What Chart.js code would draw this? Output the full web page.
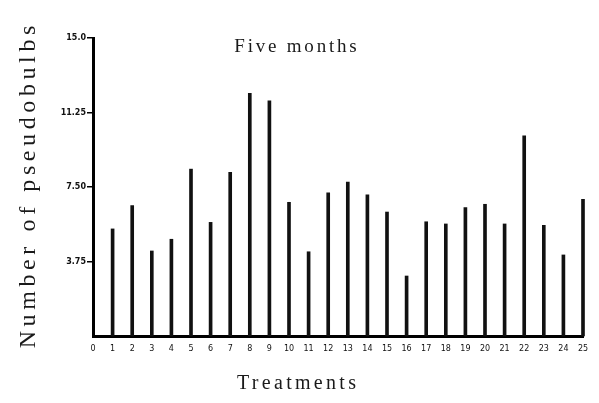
<!DOCTYPE html>
<html>
<head>
<meta charset="utf-8">
<script src="https://cdn.jsdelivr.net/npm/chart.js@4"></script>
<style>
  html, body { margin: 0; padding: 0; background: #fff; }
  #wrap { width: 599px; height: 403px; position: relative; }
</style>
</head>
<body>
<div id="wrap"><canvas id="graficoPseudobulbos"></canvas></div>
<script>
// Treatments 1..25 and number of pseudobulbs after five months
const treatments = [1, 2, 3, 4, 5, 6, 7, 8, 9, 10, 11, 12, 13, 14, 15, 16, 17, 18, 19, 20, 21, 22, 23, 24, 25];
const pseudobulbs = [5.39, 6.56, 4.28, 4.87, 8.40, 5.72, 8.24, 12.21, 11.84, 6.73, 4.24, 7.21, 7.75,
                     7.11, 6.24, 3.02, 5.75, 5.64, 6.46, 6.63, 5.64, 10.08, 5.57, 4.08, 6.88];
const yTickValues = [3.75, 7.5, 11.25, 15];
const yTickLabels = ['3.75', '7.50', '11.25', '15.0'];

document.addEventListener('DOMContentLoaded', function () {
    const ctx = document.getElementById('graficoPseudobulbos').getContext('2d');
    const fonteTexto = '"Liberation Serif", "DejaVu Serif", serif';

    // typewriter-like texts: title, x title and y title drawn by hand
    function escrever(c, texto, x, y, tamanho, espaco, angulo) {
        c.save();
        c.translate(x, y);
        c.rotate(angulo || 0);
        c.fillStyle = '#1a1a1a';
        c.textAlign = 'center';
        c.textBaseline = 'middle';
        c.font = tamanho + 'px ' + fonteTexto;
        c.letterSpacing = espaco + 'px';
        c.fillText(texto, espaco / 2, 0);
        c.restore();
    }

    const textoLivre = {
        id: 'textoLivre',
        afterDraw(chart) {
            const c = chart.ctx;
            const meio = chart.width / 2;
            escrever(c, 'Five months', meio - 4, 47, 19, 2.8);
            escrever(c, 'Treatments', meio - 3, 384, 20, 3.3);
            escrever(c, 'Number of pseudobulbs', 29, (chart.chartArea.top + chart.chartArea.bottom) / 2, 24, 4.6, -Math.PI / 2);
        }
    };

    new Chart(ctx, {
        type: 'bar',
        data: {
            datasets: [{
                label: 'Number of pseudobulbs',
                data: treatments.map((t, i) => ({ x: t, y: pseudobulbs[i] })),
                backgroundColor: '#111',
                barThickness: 3,
                borderWidth: 0,
                clip: false
            }]
        },
        options: {
            responsive: true,
            maintainAspectRatio: false,
            animation: false,
            layout: { padding: { top: 38, right: 16, left: 0, bottom: 0 } },
            plugins: {
                legend: { display: false },
                tooltip: { enabled: false }
            },
            scales: {
                x: {
                    type: 'linear',
                    min: 0,
                    max: 25,
                    offset: false,
                    border: { display: true, color: '#000', width: 3 },
                    grid: { drawOnChartArea: false, drawTicks: false },
                    ticks: {
                        stepSize: 1,
                        autoSkip: false,
                        maxRotation: 0,
                        padding: 8,
                        color: '#111',
                        font: { family: 'DejaVu Sans', size: 8 }
                    },
                    afterFit: (scale) => { scale.height = 67; }
                },
                y: {
                    min: 0,
                    max: 15,
                    border: { display: true, color: '#000', width: 3 },
                    grid: { drawOnChartArea: false, drawTicks: true, tickLength: 6, color: '#000', lineWidth: 1.5 },
                    afterBuildTicks: (scale) => { scale.ticks = yTickValues.map(v => ({ value: v })); },
                    ticks: {
                        padding: 1,
                        color: '#111',
                        font: { family: 'DejaVu Sans', size: 8, weight: 'bold' },
                        callback: (value) => yTickLabels[yTickValues.indexOf(value)] || ''
                    },
                    afterFit: (scale) => { scale.width = 93; }
                }
            }
        },
        plugins: [textoLivre]
    });
});
</script>
</body>
</html>
